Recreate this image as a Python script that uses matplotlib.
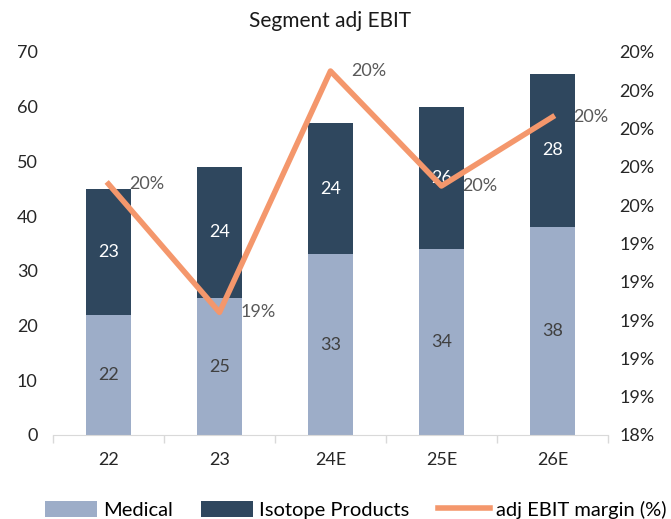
import matplotlib.pyplot as plt
from matplotlib.ticker import FuncFormatter

plt.rcParams['font.family'] = ['Lato', 'DejaVu Sans']

years = ['22', '23', '24E', '25E', '26E']
medical = [22, 25, 33, 34, 38]
isotope = [23, 24, 24, 26, 28]
margin = [19.71, 19.04, 20.30, 19.70, 20.06]
margin_labels = ['20%', '19%', '20%', '20%', '20%']

c_med = '#9dadc8'
c_iso = '#2f475e'
c_line = '#f4976c'

fig = plt.figure(figsize=(6.71, 5.19), dpi=100)
ax = fig.add_axes([0.079, 0.162, 0.827, 0.738])
x = list(range(len(years)))

ax.bar(x, medical, width=0.4, color=c_med, label='Medical', zorder=2)
ax.bar(x, isotope, width=0.4, bottom=medical, color=c_iso, label='Isotope Products', zorder=2)

for i in x:
    ax.text(i, medical[i] / 2, str(medical[i]), ha='center', va='center',
            fontsize=13, color='#404040', zorder=5)
    ax.text(i, medical[i] + isotope[i] / 2, str(isotope[i]), ha='center', va='center',
            fontsize=13, color='white', zorder=5)

ax.set_xlim(-0.5, len(years) - 0.5)
ax.set_ylim(0, 70)
ax.set_yticks(range(0, 71, 10))
ax.set_xticks(x)
ax.set_xticklabels(years)
ax.set_xticks([i - 0.5 for i in range(len(years) + 1)], minor=True)
ax.tick_params(axis='x', which='major', length=0, pad=12, labelsize=13, labelcolor='#262626')
ax.tick_params(axis='x', which='minor', length=6, color='#d9d9d9', width=1)
ax.tick_params(axis='y', length=0, pad=11, labelsize=13, labelcolor='#262626')
for s in ['top', 'right', 'left']:
    ax.spines[s].set_visible(False)
ax.spines['bottom'].set_color('#d9d9d9')

ax2 = ax.twinx()
ax2.plot(x, margin, color=c_line, linewidth=4, label='adj EBIT margin (%)', zorder=4)
ax2.set_ylim(18.4, 20.4)
ax2.set_yticks([18.4 + 0.2 * k for k in range(11)])
ax2.yaxis.set_major_formatter(FuncFormatter(lambda v, p: '%d%%' % round(v)))
ax2.tick_params(axis='y', length=0, pad=8, labelsize=13, labelcolor='#262626')
for s in ['top', 'right', 'left', 'bottom']:
    ax2.spines[s].set_visible(False)
for i in x:
    ax2.annotate(margin_labels[i], (i, margin[i]), xytext=(15, 0), textcoords='offset points',
                 ha='left', va='center', fontsize=13, color='#595959', zorder=6)

ax.set_title('Segment adj EBIT', fontsize=15, color='#1a1a1a', pad=18)

h1, l1 = ax.get_legend_handles_labels()
h2, l2 = ax2.get_legend_handles_labels()
fig.legend(h1 + h2, l1 + l2, loc='lower center', bbox_to_anchor=(0.53, -0.035), ncol=3,
           frameon=False, fontsize=14.5, handlelength=2.6, handleheight=0.9, columnspacing=1.4,
           handletextpad=0.3)

fig.savefig('out.png', dpi=100)
